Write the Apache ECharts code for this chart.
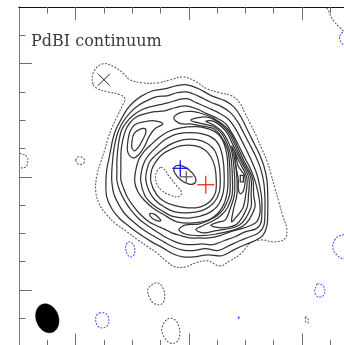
<!DOCTYPE html>
<html>
<head>
<meta charset="utf-8">
<script src="https://cdn.jsdelivr.net/npm/echarts@6/dist/echarts.min.js"></script>
<style>
html,body{margin:0;padding:0;background:#fff;}
#chart{width:344px;height:345px;}
</style>
</head>
<body>
<div id="chart"></div>
<script>
// Offsets in arcsec from the phase centre: x = RA offset, y = Dec offset.
const xTicksMajor = [-4, 0, 4];
const xTicksMinor = [-5, -3, -2, -1, 1, 2, 3, 5];
const yTicksMajor = [-4, 0, 4];
const yTicksMinor = [-5, -3, -2, -1, 1, 2, 3, 5];

// Lowest positive level (dotted grey)
const lvl0Outer = [[-3.39,3.29],[-3.36,3.71],[-3.04,3.99],[-2.65,3.89],[-2.30,3.64],[-2.08,3.43],[-1.63,3.32],[-1.10,3.32],[-0.64,3.43],[-0.21,3.53],[0.21,3.39],[0.64,3.11],[1.10,2.97],[1.52,2.86],[1.80,2.61],[1.98,2.26],[2.19,1.84],[2.40,1.41],[2.58,0.99],[2.76,0.57],[2.90,0.11],[3.04,-0.39],[3.18,-0.88],[3.32,-1.38],[3.46,-1.84],[3.39,-2.19],[3.00,-2.30],[2.58,-2.23],[2.19,-2.33],[1.84,-2.72],[1.45,-2.97],[1.10,-3.15],[0.67,-2.97],[0.25,-3.04],[-0.11,-3.18],[-0.49,-3.18],[-0.81,-2.97],[-1.13,-2.69],[-1.45,-2.47],[-1.80,-2.23],[-2.19,-1.94],[-2.58,-1.66],[-2.93,-1.31],[-3.18,-0.92],[-3.29,-0.49],[-3.25,0.04],[-3.11,0.53],[-2.97,0.95],[-2.86,1.34],[-2.72,1.73],[-2.54,2.12],[-2.37,2.47],[-2.26,2.76],[-2.44,2.90],[-2.86,3.00],[-3.22,3.11]];
const lvl0Hole = [[-1.02,0.32],[-1.17,0.07],[-1.13,-0.25],[-0.95,-0.49],[-0.67,-0.64],[-0.39,-0.71],[-0.25,-0.57],[-0.46,-0.28],[-0.71,0.04],[-0.88,0.28]];
const lvl0South1 = [[-1.31,-3.82],[-1.10,-3.75],[-0.92,-3.92],[-0.85,-4.24],[-0.95,-4.49],[-1.20,-4.49],[-1.38,-4.28],[-1.45,-3.99]];
const lvl0South2 = [[-0.74,-5.02],[-0.49,-5.05],[-0.35,-5.30],[-0.32,-5.58],[-0.42,-5.83],[-0.67,-5.87],[-0.88,-5.65],[-0.95,-5.34]];
const lvl0West = [[-3.99,0.60],[-3.89,0.71],[-3.75,0.67],[-3.68,0.57],[-3.75,0.46],[-3.92,0.46]];
const lvl0Corner = [[4.84,6.18],[4.95,5.83],[5.12,5.51],[5.34,5.27],[5.58,5.05],[5.90,4.91],[6.11,5.55],[5.69,6.25]];

// Negative level (dotted blue)
const negWest = [[-6.18,0.81],[-5.90,0.81],[-5.72,0.71],[-5.69,0.53],[-5.76,0.35],[-5.97,0.32],[-6.18,0.39]];
const negSouthWest = [[-2.12,-2.30],[-1.98,-2.37],[-1.91,-2.54],[-1.94,-2.76],[-2.08,-2.83],[-2.19,-2.69],[-2.23,-2.47]];
const negBeamSide = [[-3.15,-4.81],[-2.93,-4.84],[-2.83,-5.02],[-2.86,-5.23],[-3.04,-5.34],[-3.22,-5.27],[-3.29,-5.05],[-3.25,-4.88]];
const negEast = [[5.16,-2.23],[5.34,-2.08],[5.58,-2.08],[5.76,-2.40],[5.69,-2.79],[5.48,-2.90],[5.23,-2.76],[5.09,-2.51]];
const negSouthEast = [[4.56,-3.78],[4.74,-3.85],[4.81,-4.03],[4.74,-4.21],[4.56,-4.24],[4.45,-4.06],[4.49,-3.89]];
const negSouthEast2 = [[4.13,-4.95],[4.21,-5.02],[4.21,-5.16],[4.13,-5.12]];
const negSouth = [[1.75,-4.96],[1.80,-4.98],[1.77,-5.02]];
const negNorthEast = [[5.34,4.98],[5.48,5.12],[5.65,5.05],[5.69,4.77],[5.55,4.63],[5.37,4.77]];

// Positive levels 1-4: outer edges of the ring
const ringOuter1 = [[-1.66,2.86],[-1.27,3.04],[-0.85,3.11],[-0.42,3.22],[-0.07,3.25],[0.35,3.11],[0.81,2.86],[1.27,2.69],[1.59,2.47],[1.84,2.12],[2.05,1.70],[2.26,1.27],[2.47,0.85],[2.65,0.39],[2.76,-0.11],[2.79,-0.67],[2.79,-1.24],[2.76,-1.73],[2.61,-2.08],[2.33,-2.26],[1.98,-2.40],[1.59,-2.58],[1.17,-2.79],[0.67,-2.76],[0.18,-2.83],[-0.21,-2.83],[-0.57,-2.72],[-0.92,-2.51],[-1.31,-2.30],[-1.70,-2.05],[-2.08,-1.77],[-2.44,-1.48],[-2.72,-1.13],[-2.90,-0.71],[-2.93,-0.21],[-2.90,0.25],[-2.83,0.60],[-2.76,0.95],[-2.69,1.31],[-2.58,1.66],[-2.40,2.01],[-2.19,2.37],[-1.94,2.65]];
const ringOuter2 = [[-1.48,2.69],[-1.13,2.83],[-0.78,2.86],[-0.42,2.97],[-0.07,3.00],[0.32,2.86],[0.74,2.65],[1.17,2.47],[1.48,2.26],[1.73,1.94],[1.94,1.55],[2.16,1.13],[2.37,0.71],[2.54,0.28],[2.65,-0.21],[2.69,-0.74],[2.69,-1.27],[2.65,-1.73],[2.47,-1.98],[2.16,-2.12],[1.80,-2.26],[1.41,-2.44],[1.02,-2.61],[0.60,-2.54],[0.14,-2.61],[-0.25,-2.58],[-0.57,-2.47],[-0.88,-2.30],[-1.20,-2.12],[-1.55,-1.91],[-1.91,-1.63],[-2.23,-1.34],[-2.47,-0.99],[-2.65,-0.60],[-2.72,-0.18],[-2.72,0.21],[-2.69,0.60],[-2.65,0.95],[-2.58,1.31],[-2.47,1.66],[-2.30,1.98],[-2.08,2.26],[-1.80,2.51]];
const ringOuter3 = [[-1.38,2.47],[-1.06,2.54],[-0.74,2.61],[-0.39,2.72],[-0.07,2.76],[0.28,2.61],[0.67,2.44],[1.06,2.26],[1.38,2.05],[1.63,1.73],[1.84,1.34],[2.05,0.92],[2.23,0.53],[2.40,0.11],[2.51,-0.35],[2.58,-0.81],[2.58,-1.31],[2.54,-1.66],[2.37,-1.84],[2.01,-1.94],[1.63,-2.12],[1.24,-2.26],[0.85,-2.40],[0.46,-2.37],[0.11,-2.40],[-0.25,-2.37],[-0.57,-2.26],[-0.85,-2.12],[-1.13,-1.94],[-1.45,-1.73],[-1.77,-1.48],[-2.05,-1.17],[-2.26,-0.85],[-2.44,-0.49],[-2.54,-0.14],[-2.54,0.21],[-2.54,0.57],[-2.51,0.95],[-2.46,1.31],[-2.37,1.66],[-2.19,1.94],[-1.94,2.19],[-1.66,2.37]];
const ringOuter4 = [[-1.20,2.30],[-0.85,2.33],[-0.49,2.44],[-0.11,2.51],[0.28,2.40],[0.64,2.23],[0.99,2.08],[1.31,1.87],[1.52,1.55],[1.73,1.17],[1.94,0.74],[2.16,0.32],[2.33,-0.11],[2.44,-0.53],[2.51,-0.95],[2.51,-1.31],[2.40,-1.59],[2.16,-1.73],[1.84,-1.84],[1.48,-1.94],[1.10,-2.08],[0.71,-2.16],[0.35,-2.16],[0.04,-2.16],[-0.28,-2.08],[-0.60,-1.98],[-0.88,-1.84],[-1.13,-1.73],[-1.41,-1.59],[-1.70,-1.34],[-1.94,-1.06],[-2.16,-0.74],[-2.30,-0.42],[-2.40,-0.11],[-2.40,0.21],[-2.40,0.57],[-2.39,0.95],[-2.33,1.31],[-2.24,1.63],[-2.08,1.91],[-1.84,2.12],[-1.52,2.23]];

// Positive levels 1-4: inner edges of the ring, around the central depression
const ringInner4 = [[-1.91,-0.18],[-1.87,0.25],[-1.77,0.60],[-1.59,0.88],[-1.34,1.13],[-1.06,1.38],[-0.74,1.59],[-0.28,1.73],[0.28,1.77],[0.85,1.63],[1.17,1.34],[1.34,0.81],[1.38,0.18],[1.36,-0.53],[1.17,-1.10],[0.78,-1.48],[0.18,-1.63],[-0.42,-1.59],[-0.88,-1.34],[-1.27,-1.10],[-1.59,-0.81],[-1.80,-0.53]];
const ringInner3 = [[-1.70,-0.14],[-1.66,0.25],[-1.55,0.57],[-1.38,0.81],[-1.13,1.06],[-0.85,1.31],[-0.39,1.52],[0.25,1.55],[0.78,1.41],[1.06,1.13],[1.20,0.67],[1.25,0.07],[1.22,-0.53],[1.02,-1.02],[0.64,-1.31],[0.07,-1.45],[-0.53,-1.41],[-0.95,-1.20],[-1.31,-0.95],[-1.55,-0.67]];
const ringInner2 = [[-1.52,-0.11],[-1.48,0.25],[-1.38,0.53],[-1.20,0.74],[-0.95,0.95],[-0.60,1.17],[-0.18,1.31],[0.28,1.31],[0.67,1.17],[0.92,0.92],[1.06,0.49],[1.11,0.00],[1.08,-0.53],[0.88,-0.92],[0.53,-1.17],[0.04,-1.27],[-0.49,-1.24],[-0.88,-1.06],[-1.20,-0.81],[-1.41,-0.49]];
const ringInner1 = [[-1.34,-0.18],[-1.31,0.25],[-1.17,0.53],[-0.95,0.78],[-0.67,0.95],[-0.25,1.10],[0.21,1.10],[0.57,0.95],[0.78,0.71],[0.92,0.35],[0.97,-0.11],[0.94,-0.57],[0.74,-0.88],[0.42,-1.06],[-0.04,-1.10],[-0.49,-1.02],[-0.85,-0.88],[-1.13,-0.64]];
const centralPeak = [[0.22,-0.21],[0.01,-0.26],[-0.28,-0.11],[-0.50,0.14],[-0.50,0.35],[-0.30,0.40],[0.00,0.25],[0.22,0.00]];

// Secondary peaks (north-west and south-west)
const nwPeak5 = [[-2.16,1.20],[-2.08,1.59],[-1.91,1.84],[-1.59,1.94],[-1.20,1.98],[-0.92,1.87],[-1.20,1.70],[-1.41,1.41],[-1.55,1.10],[-1.77,0.78],[-1.98,0.67],[-2.16,0.88]];
const nwPeak6 = [[-2.01,1.24],[-1.94,1.52],[-1.77,1.66],[-1.55,1.70],[-1.52,1.55],[-1.63,1.31],[-1.77,1.06],[-1.91,0.92],[-2.01,1.02]];
const swPeak5 = [[-1.38,-1.31],[-1.24,-1.31],[-1.10,-1.41],[-0.99,-1.55],[-1.13,-1.55],[-1.31,-1.45]];

// Eastern crescent, levels 5-10
const eastArc5 = [[-0.53,2.08],[-0.32,2.26],[0.11,2.31],[0.53,2.21],[0.88,2.07],[1.38,1.69],[1.68,1.15],[1.93,0.60],[2.25,-0.04],[2.29,-0.64],[2.33,-1.10],[1.90,-1.75],[0.92,-2.03],[0.39,-2.08],[-0.11,-2.03],[-0.35,-1.87],[-0.11,-1.70],[0.39,-1.66],[0.92,-1.43],[1.11,-1.27],[1.25,-1.10],[1.44,-0.64],[1.46,-0.04],[1.43,0.60],[1.36,1.01],[1.11,1.47],[0.88,1.70],[0.53,1.78],[0.11,1.86],[-0.32,1.89]];
const eastArc6 = [[0.07,2.00],[0.53,2.12],[0.88,2.03],[1.34,1.66],[1.63,1.13],[1.87,0.60],[2.19,-0.04],[2.20,-0.64],[2.19,-1.10],[1.79,-1.70],[0.92,-1.91],[0.49,-1.98],[0.25,-1.86],[0.49,-1.73],[0.92,-1.52],[1.17,-1.33],[1.36,-1.10],[1.53,-0.64],[1.54,-0.04],[1.50,0.60],[1.41,1.02],[1.17,1.52],[0.88,1.77],[0.53,1.86]];
const eastArc7 = [[0.60,1.96],[0.88,1.96],[1.30,1.62],[1.57,1.11],[1.82,0.60],[2.12,-0.04],[2.11,-0.64],[2.05,-1.10],[1.70,-1.67],[1.27,-1.80],[0.95,-1.78],[0.78,-1.71],[1.02,-1.61],[1.29,-1.52],[1.47,-1.10],[1.61,-0.64],[1.62,-0.04],[1.57,0.60],[1.47,1.05],[1.21,1.55],[0.88,1.83]];
const eastArc8 = [[1.52,1.08],[1.75,0.60],[2.05,-0.04],[2.01,-0.64],[1.91,-1.10],[1.63,-1.48],[1.51,-1.59],[1.59,-1.10],[1.70,-0.64],[1.70,-0.04],[1.63,0.60]];
const eastRidge9 = [[1.64,0.85],[1.69,0.60],[1.74,0.39],[1.86,0.21],[1.97,0.05],[1.99,-0.21],[1.93,-0.49],[1.82,-0.60],[1.75,-0.42],[1.75,-0.11],[1.70,0.18],[1.65,0.46]];
const eastPeak10 = [[1.82,0.05],[1.93,0.05],[1.93,-0.18],[1.82,-0.18]];

// Positions of marked sources and the synthesized beam (arcsec, deg)
const crossBlue = [-0.30, 0.30];
const crossGrey = [-0.09, 0.00];
const crossRed = [0.60, -0.28];
const markX = [-3.00, 3.43];
const beamCentre = [-5.00, -5.00];
const beamAxes = [1.05, 0.79];
const beamPA = 20;

const positiveLow = [lvl0Outer, lvl0Hole, lvl0South1, lvl0South2, lvl0West, lvl0Corner];
const negative = [negWest, negSouthWest, negBeamSide, negEast, negSouthEast, negSouthEast2, negSouth, negNorthEast];
const solid = [ringOuter1, ringOuter2, ringOuter3, ringOuter4, ringInner4, ringInner3, ringInner2, ringInner1,
  centralPeak, nwPeak5, nwPeak6, swPeak5, eastArc5, eastArc6, eastArc7, eastArc8, eastRidge9];

const chart = echarts.init(document.getElementById('chart'), null, {renderer: 'canvas'});

function contourSeries(loops, stroke, dash, smooth, width) {
  return {
    type: 'custom',
    coordinateSystem: 'cartesian2d',
    clip: true,
    silent: true,
    animation: false,
    z: 2,
    data: loops.map((l, i) => [l[0][0], l[0][1], i]),
    encode: {x: 0, y: 1},
    renderItem: function (params, api) {
      const pts = loops[api.value(2)].map(p => api.coord(p));
      return {
        type: 'polygon',
        shape: {points: pts, smooth: smooth},
        style: {fill: 'none', stroke: stroke, lineWidth: width, lineDash: dash, lineCap: 'round'}
      };
    }
  };
}

function crossSeries(pt, armX, armY, color, width, diagonal) {
  return {
    type: 'custom',
    coordinateSystem: 'cartesian2d',
    silent: true,
    animation: false,
    z: 5,
    data: [pt],
    renderItem: function (params, api) {
      const c = api.coord([api.value(0), api.value(1)]);
      const segs = diagonal
        ? [[-armX, -armY, armX, armY], [-armX, armY, armX, -armY]]
        : [[-armX, 0, armX, 0], [0, -armY, 0, armY]];
      return {
        type: 'group',
        children: segs.map(s => ({
          type: 'line',
          shape: {x1: c[0] + s[0], y1: c[1] + s[1], x2: c[0] + s[2], y2: c[1] + s[3]},
          style: {stroke: color, lineWidth: width}
        }))
      };
    }
  };
}

const beamSeries = {
  type: 'custom',
  coordinateSystem: 'cartesian2d',
  silent: true,
  animation: false,
  z: 4,
  data: [[beamCentre[0], beamCentre[1], beamAxes[0], beamAxes[1], beamPA]],
  renderItem: function (params, api) {
    const cx = api.value(0), cy = api.value(1);
    const a = api.value(2) / 2, b = api.value(3) / 2;
    const pa = api.value(4) * Math.PI / 180;
    const pts = [];
    for (let k = 0; k < 72; k++) {
      const t = k / 72 * 2 * Math.PI;
      const u = a * Math.cos(t), v = b * Math.sin(t);
      // position angle measured from north towards east (east to the left)
      pts.push(api.coord([cx - u * Math.sin(pa) + v * Math.cos(pa), cy + u * Math.cos(pa) + v * Math.sin(pa)]));
    }
    return {type: 'polygon', shape: {points: pts}, style: {fill: '#000', stroke: '#000', lineWidth: 0.5}};
  }
};

function axis(position, ticks, len, lineColor) {
  return {
    type: 'value', position: position, min: -6, max: 6,
    axisLine: {show: true, onZero: false, lineStyle: {color: lineColor, width: 1}},
    axisTick: {show: true, inside: true, length: len, customValues: ticks, lineStyle: {color: '#6f6f6f', width: 1}},
    axisLabel: {show: false},
    splitLine: {show: false}
  };
}

chart.setOption({
  animation: false,
  backgroundColor: '#ffffff',
  title: {
    text: 'PdBI continuum', left: 31, top: 34, padding: 0,
    textStyle: {fontFamily: 'DejaVu Serif', fontSize: 16, fontWeight: 'normal', color: '#3a3a3a'}
  },
  grid: {left: 19, top: 7, width: 339.6, height: 339.6, containLabel: false, outerBoundsMode: 'none'},
  xAxis: [
    axis('bottom', xTicksMajor, 13, '#444'), axis('bottom', xTicksMinor, 6.5, '#444'),
    axis('top', xTicksMajor, 13, '#111'), axis('top', xTicksMinor, 6.5, '#111')
  ],
  yAxis: [
    axis('left', yTicksMajor, 13, '#7a7a7a'), axis('left', yTicksMinor, 6.5, '#7a7a7a'),
    axis('right', yTicksMajor, 13, '#444'), axis('right', yTicksMinor, 6.5, '#444')
  ],
  series: [
    contourSeries(positiveLow, '#5e5e5e', [1, 2.4], 0.4, 1.15),
    contourSeries(negative, '#5a5af5', [1, 2.2], 0.4, 1.15),
    contourSeries(solid, '#343434', null, 0.35, 1.25),
    contourSeries([eastPeak10], '#343434', null, 0, 1.25),
    beamSeries,
    crossSeries(markX, 6, 6, '#222222', 1, true),
    crossSeries(crossGrey, 6.5, 5.5, '#555555', 1.2, false),
    crossSeries(crossBlue, 8, 8, '#1414ff', 1.3, false),
    crossSeries(crossRed, 8.5, 9, '#f03a3a', 1.4, false)
  ]
});
</script>
</body>
</html>
